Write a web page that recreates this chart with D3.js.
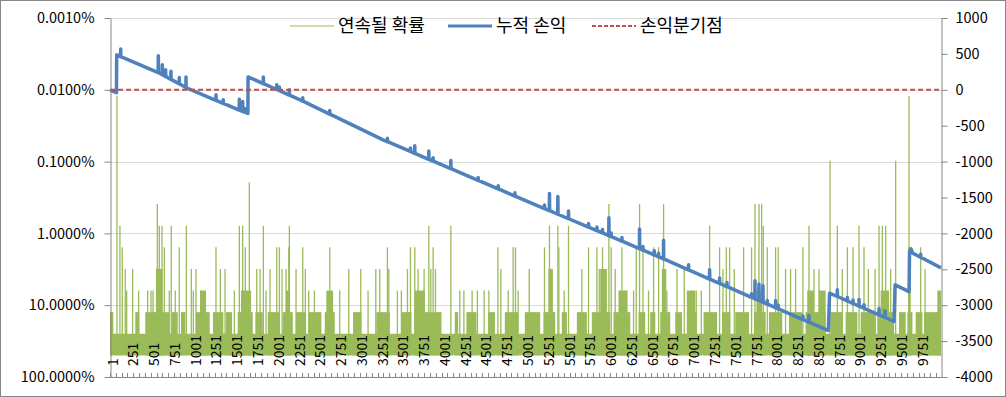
<!DOCTYPE html>
<html>
<head>
<meta charset="utf-8">
<script src="https://cdn.jsdelivr.net/npm/d3@7/dist/d3.min.js"></script>
<style>
  body { margin: 0; background: #fff; }
  svg text { font-family: "Malgun Gothic", "Noto Sans CJK KR", sans-serif; fill: #000; }
</style>
</head>
<body>
<svg id="chart" width="1006" height="397"></svg>
<script>
// number of trades (categories on the x axis)
const tradeCount = 10000;
const xLabels = [1, 251, 501, 751, 1001, 1251, 1501, 1751, 2001, 2251, 2501, 2751, 3001, 3251, 3501, 3751,
  4001, 4251, 4501, 4751, 5001, 5251, 5501, 5751, 6001, 6251, 6501, 6751, 7001, 7251, 7501, 7751,
  8001, 8251, 8501, 8751, 9001, 9251, 9501, 9751];
const probTicks = [0.00001, 0.0001, 0.001, 0.01, 0.1, 1];
const probLabels = ['0.0010%', '0.0100%', '0.1000%', '1.0000%', '10.0000%', '100.0000%'];
const pnlTicks = [1000, 500, 0, -500, -1000, -1500, -2000, -2500, -3000, -3500, -4000];
const seriesNames = ['연속될 확률', '누적 손익', '손익분기점'];

// 연속될 확률: dense stretches [from, to, streak] -> probability 0.5^streak
const streakBlocks = [
  [1, 10000, 2],
  [1, 40, 3], [305, 353, 3], [425, 554, 3], [594, 714, 3], [746, 815, 3], [855, 907, 3], [1035, 1200, 3],
  [1240, 1364, 3], [1397, 1469, 3], [1537, 1718, 3], [1750, 1838, 3], [1899, 2039, 3], [2079, 2200, 3],
  [2240, 2360, 3], [2392, 2544, 3], [2585, 2705, 3], [2926, 3026, 3], [3206, 3368, 3], [3507, 3628, 3],
  [3668, 3989, 3], [4150, 4190, 3], [4290, 4410, 3], [4551, 4632, 3], [4752, 4912, 3], [4993, 5177, 3],
  [5217, 5358, 3], [5438, 5498, 3], [5619, 5739, 3], [5799, 6020, 3], [6060, 6261, 3], [6361, 6441, 3],
  [6502, 6562, 3], [6622, 6742, 3], [6803, 6883, 3], [6943, 7064, 3], [7144, 7305, 3], [7365, 7465, 3],
  [7525, 7689, 3], [7750, 7890, 3], [7930, 8090, 3], [8171, 8331, 3], [8371, 8612, 3], [8672, 8813, 3],
  [8853, 8994, 3], [9034, 9214, 3], [9234, 9435, 3], [9495, 9575, 3], [9596, 9656, 3], [9696, 9776, 3],
  [9797, 10000, 3],
  [1084, 1156, 4], [1577, 1698, 4], [2119, 2167, 4], [2604, 2685, 4], [3668, 3789, 4], [6120, 6221, 4],
  [6943, 7043, 4], [7780, 7840, 4], [8391, 8472, 4], [8532, 8612, 4], [9275, 9375, 4], [9957, 10000, 4],
  [554, 634, 5], [5277, 5330, 5], [5900, 5980, 5], [6642, 6694, 5],
  [9604, 9636, 6]
];
// single long streaks [trade, streak]
const streakSpikes = [
  [84, 13], [120, 7], [148, 6], [184, 5], [201, 4], [273, 5], [345, 4], [454, 4], [494, 4], [518, 4], [570, 8],
  [594, 7], [626, 7], [654, 6], [714, 4], [738, 7], [786, 4], [834, 6], [919, 7], [979, 5], [1003, 4], [1035, 5],
  [1096, 4], [1276, 6], [1328, 5], [1385, 5], [1497, 4], [1557, 7], [1597, 7], [1629, 6], [1677, 9], [1766, 5],
  [1806, 5], [1846, 7], [1878, 4], [1926, 5], [2007, 6], [2039, 6], [2071, 5], [2119, 5], [2152, 6], [2159, 7],
  [2239, 5], [2320, 6], [2351, 5], [2392, 4], [2460, 4],
  [2645, 6], [2765, 4], [2874, 5], [3018, 5], [3106, 4], [3199, 5], [3247, 5], [3339, 6], [3355, 5], [3459, 4],
  [3507, 4], [3580, 5], [3616, 6], [3668, 6], [3708, 5], [3780, 5], [3837, 7], [3861, 5], [3889, 6], [3917, 5],
  [4102, 7], [4210, 4], [4259, 4], [4358, 4], [4422, 4], [4503, 4], [4560, 4], [4668, 6], [4704, 5], [4792, 4],
  [4852, 6], [4880, 6], [4912, 4], [5045, 5],
  [5229, 6], [5289, 7], [5390, 7], [5402, 6], [5466, 4], [5518, 7], [5679, 5], [5759, 6], [5860, 6], [5888, 5],
  [5927, 6], [5960, 5], [6004, 8], [6032, 6], [6080, 5], [6161, 6], [6221, 4], [6301, 4], [6333, 6], [6373, 8],
  [6414, 6], [6481, 4], [6542, 6], [6602, 6], [6662, 8], [6702, 4], [6823, 5], [6911, 5], [7055, 4], [7116, 4],
  [7216, 7], [7336, 6], [7377, 5], [7417, 6], [7457, 6], [7513, 5], [7625, 6],
  [7721, 6], [7762, 8], [7810, 8], [7842, 8], [7862, 7], [7910, 6], [8010, 6], [8042, 6], [8130, 5], [8190, 5],
  [8251, 5], [8339, 6], [8412, 7], [8472, 5], [8532, 5], [8665, 10], [8753, 7], [8813, 5], [8874, 6], [8942, 6],
  [9014, 7], [9074, 6], [9126, 5], [9207, 5], [9255, 7], [9295, 7], [9335, 7], [9395, 5], [9455, 10], [9616, 13],
  [9756, 6], [9809, 5]
];

// 누적 손익: [trade, cumulative P&L]
const pnlPoints = [
  [1, -5], [78, -40], [81, 487], [127, 463], [129, 567], [131, 463],
  [580, 240], [582, 474], [584, 240], [628, 210], [630, 348], [632, 210], [652, 195], [654, 245], [656, 195],
  [668, 185], [670, 279], [672, 185],
  [732, 145], [734, 260], [736, 145], [832, 83], [834, 170], [836, 83], [913, 32], [915, 177], [917, 32],
  [943, 15], [1274, -146], [1276, -70], [1278, -146], [1362, -189], [1364, -139], [1366, -189],
  [1555, -282], [1557, -130], [1559, -282], [1595, -301], [1597, -163], [1599, -301],
  [1627, -315], [1629, -265], [1631, -315], [1660, -330],
  [1662, 180], [1844, 86], [1846, 180], [1848, 86], [2005, 4], [2007, 70], [2009, 4],
  [2037, -12], [2039, 38], [2041, -12], [2157, -73], [2159, 0], [2161, -73], [2288, -139],
  [2318, -157], [2320, -110], [2322, -157], [2643, -338], [2645, -290], [2647, -338], [3287, -697],
  [3337, -723], [3339, -675], [3341, -723], [3614, -859], [3616, -810], [3618, -859],
  [3666, -885], [3668, -778], [3670, -885], [3835, -968], [3837, -852], [3839, -968],
  [3887, -994], [3889, -945], [3891, -994], [4100, -1099], [4102, -983], [4104, -1099],
  [4429, -1262], [4431, -1222], [4433, -1262], [4670, -1381], [4672, -1336], [4674, -1381],
  [4871, -1480], [4873, -1435], [4875, -1480],
  [5072, -1578], [5227, -1654], [5229, -1605], [5231, -1654], [5287, -1684], [5289, -1443], [5291, -1684],
  [5388, -1733], [5390, -1487], [5392, -1733], [5516, -1796], [5518, -1689], [5520, -1796],
  [5757, -1912], [5759, -1862], [5761, -1912], [5858, -1961], [5860, -1911], [5862, -1961],
  [5925, -1994], [5927, -1944], [5929, -1994], [6002, -2032], [6004, -1781], [6006, -2032],
  [6030, -2045], [6032, -1995], [6034, -2045], [6159, -2108], [6161, -2058], [6163, -2108],
  [6371, -2211], [6373, -1937], [6375, -2211], [6381, -2215], [6412, -2232], [6414, -2182], [6416, -2232],
  [6548, -2300], [6550, -2240], [6552, -2300], [6600, -2326], [6602, -2276], [6604, -2326],
  [6660, -2356], [6662, -2096], [6664, -2356], [6961, -2508], [6963, -2438], [6965, -2508],
  [7214, -2636], [7216, -2506], [7218, -2636], [7334, -2696], [7336, -2622], [7338, -2696],
  [7423, -2741], [7425, -2685], [7427, -2741], [7625, -2842], [7719, -2890], [7721, -2840], [7723, -2890],
  [7760, -2911], [7762, -2660], [7764, -2911],
  [7808, -2935], [7810, -2705], [7812, -2935], [7856, -2959], [7858, -2729], [7860, -2959],
  [7908, -2985], [7910, -2935], [7912, -2985],
  [8008, -3035], [8010, -2935], [8012, -3035], [8040, -3051], [8042, -3001], [8044, -3051],
  [8337, -3200], [8339, -3150], [8341, -3200], [8410, -3236], [8412, -3143], [8414, -3236], [8645, -3353],
  [8660, -2832], [8751, -2879], [8753, -2786], [8755, -2879], [8872, -2941], [8874, -2891], [8876, -2941],
  [8940, -2976], [8942, -2926], [8944, -2976], [9012, -3012], [9014, -2919], [9016, -3012],
  [9072, -3043], [9074, -2993], [9076, -3043],
  [9253, -3135], [9255, -3047], [9257, -3135], [9325, -3171], [9327, -3078], [9329, -3171], [9436, -3227],
  [9448, -2716], [9616, -2810], [9622, -2252], [9640, -2215], [9660, -2275], [9754, -2332], [9756, -2290],
  [9758, -2332], [10000, -2480]
];
const breakEven = 0;

const colors = { prob: '#9BBB59', pnl: '#4F81BD', even: '#C0504D', axis: '#868686', grid: '#D9D9D9' };
const plot = { left: 110, right: 941, top: 18, bottom: 377 };

const svg = d3.select('#chart');

// outer chart border
svg.append('rect')
  .attr('x', 0.5).attr('y', 0.5)
  .attr('width', 1005).attr('height', 396)
  .attr('fill', '#fff')
  .attr('stroke', colors.axis);

const x = d3.scaleLinear().domain([0.5, tradeCount + 0.5]).range([plot.left, plot.right]);
const yProb = d3.scaleLog().domain([0.00001, 1]).range([plot.top, plot.bottom]);
const yPnl = d3.scaleLinear().domain([-4000, 1000]).range([plot.bottom, plot.top]);
const prob = k => Math.pow(0.5, k);

// horizontal gridlines on the decades
svg.append('g')
  .selectAll('line')
  .data(probTicks.slice(0, -1))
  .join('line')
  .attr('x1', plot.left).attr('x2', plot.right)
  .attr('y1', d => Math.round(yProb(d)) + 0.5)
  .attr('y2', d => Math.round(yProb(d)) + 0.5)
  .attr('stroke', colors.grid);

// 연속될 확률
const probG = svg.append('g');
probG.selectAll('rect')
  .data(streakBlocks)
  .join('rect')
  .attr('x', d => x(d[0] - 0.5))
  .attr('width', d => x(d[1] + 0.5) - x(d[0] - 0.5))
  .attr('y', d => yProb(prob(d[2])))
  .attr('height', d => yProb(0.5) - yProb(prob(d[2])))
  .attr('fill', colors.prob);
probG.selectAll('line')
  .data(streakSpikes)
  .join('line')
  .attr('x1', d => x(d[0])).attr('x2', d => x(d[0]))
  .attr('y1', yProb(0.5))
  .attr('y2', d => yProb(prob(d[1])))
  .attr('stroke', colors.prob)
  .attr('stroke-width', 1.3);

// 누적 손익
svg.append('path')
  .datum(pnlPoints)
  .attr('d', d3.line().x(d => x(d[0])).y(d => yPnl(d[1])))
  .attr('fill', 'none')
  .attr('stroke', colors.pnl)
  .attr('stroke-width', 3.5)
  .attr('stroke-linejoin', 'round');

// 손익분기점
svg.append('line')
  .attr('x1', x(1)).attr('x2', x(tradeCount))
  .attr('y1', yPnl(breakEven)).attr('y2', yPnl(breakEven))
  .attr('stroke', colors.even)
  .attr('stroke-width', 2)
  .attr('stroke-dasharray', '5,3');

// left axis
const leftAxis = svg.append('g')
  .attr('transform', `translate(${plot.left + 0.5},0)`)
  .call(d3.axisLeft(yProb).tickValues(probTicks).tickFormat((d, i) => probLabels[i]).tickSize(6).tickSizeOuter(0).tickPadding(10));
// right axis
const rightAxis = svg.append('g')
  .attr('transform', `translate(${plot.right + 0.5},0)`)
  .call(d3.axisRight(yPnl).tickValues(pnlTicks).tickFormat(d => d).tickSize(6).tickSizeOuter(0).tickPadding(8));
[leftAxis, rightAxis].forEach(g => {
  g.select('.domain').attr('stroke', colors.axis);
  g.selectAll('.tick line').attr('stroke', colors.axis);
  g.selectAll('.tick text').attr('font-size', 14.5).attr('font-family', null);
});

// bottom category axis
const bottomG = svg.append('g');
bottomG.append('line')
  .attr('x1', plot.left).attr('x2', plot.right + 1)
  .attr('y1', plot.bottom + 0.5).attr('y2', plot.bottom + 0.5)
  .attr('stroke', colors.axis);
bottomG.selectAll('line.tick')
  .data(d3.range(0, tradeCount + 1, 70))
  .join('line')
  .attr('class', 'tick')
  .attr('x1', d => Math.round(x(d + 0.5)) + 0.5)
  .attr('x2', d => Math.round(x(d + 0.5)) + 0.5)
  .attr('y1', plot.bottom - 4).attr('y2', plot.bottom)
  .attr('stroke', colors.axis);
bottomG.selectAll('text')
  .data(xLabels)
  .join('text')
  .attr('transform', d => `translate(${x(d)},366) rotate(-90)`)
  .attr('y', 7.5)
  .attr('font-size', 14)
  .text(d => d);

// legend
const legendItems = [
  { name: seriesNames[0], x: 290, color: colors.prob, width: 1, dash: null },
  { name: seriesNames[1], x: 448, color: colors.pnl, width: 3, dash: null },
  { name: seriesNames[2], x: 592, color: colors.even, width: 2, dash: '4,2' }
];
const legend = svg.append('g').attr('transform', 'translate(0,26)');
legendItems.forEach(d => {
  legend.append('line')
    .attr('x1', d.x).attr('x2', d.x + 44)
    .attr('y1', 0).attr('y2', 0)
    .attr('stroke', d.color)
    .attr('stroke-width', d.width)
    .attr('stroke-dasharray', d.dash);
  legend.append('text')
    .attr('x', d.x + 48)
    .attr('y', 0)
    .attr('dy', '0.35em')
    .attr('font-size', 18)
    .text(d.name);
});
</script>
</body>
</html>
